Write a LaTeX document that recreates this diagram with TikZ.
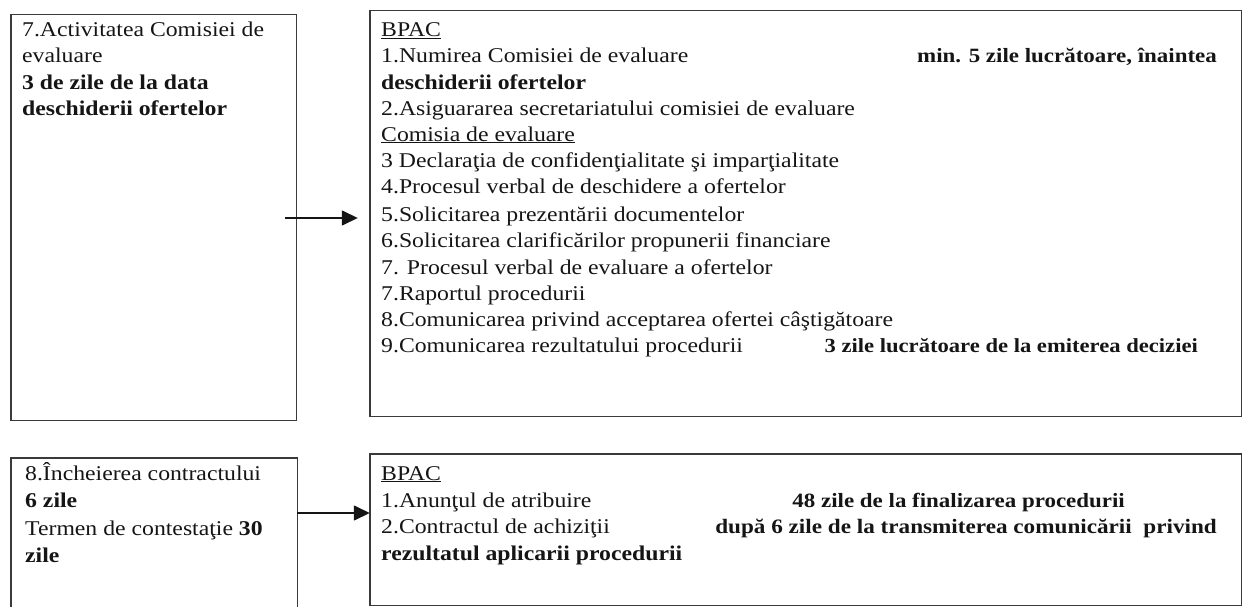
\documentclass[tikz,border=0pt]{standalone}
\usepackage{fontspec}
\setmainfont[FakeStretch=1.13]{Liberation Serif}
\usetikzlibrary{arrows.meta}
\definecolor{ink}{HTML}{151515}
\definecolor{edge}{HTML}{3A3A3A}
\tikzset{
  box/.style={draw=edge, line width=1.4pt, rectangle},
  frame/.style={inner sep=0pt, rectangle},
  ln/.style={anchor=base west, inner sep=0pt, text=ink, font=\fontsize{21}{26}\selectfont},
  lnr/.style={anchor=base east, inner sep=0pt, text=ink, font=\fontsize{20.3}{26}\selectfont\bfseries},
  arr/.style={draw=ink, line width=1.5pt, -{Triangle[length=16pt,width=15pt]}}
}
\begin{document}
\begin{tikzpicture}[x=1pt,y=-1pt]
\useasboundingbox (0,0) rectangle (1244,607);
\clip (0,0) rectangle (1244,607);
% boxes
\node[frame, minimum width=285pt, minimum height=405pt] (A) at (153.5,217.5) {};
\draw[box] (A.north west) rectangle (A.south east);
\node[frame, minimum width=871pt, minimum height=405pt] (B) at (805.5,213.5) {};
\draw[box] (B.north west) rectangle (B.south east);
\node[frame, minimum width=286pt, minimum height=164pt] (C) at (154,540) {};
\draw[box] (C.north west) rectangle (C.south east);
\node[frame, minimum width=871pt, minimum height=151pt] (D) at (805.5,529.5) {};
\draw[box] (D.north west) rectangle (D.south east);
% box A text
\node[ln] (a1) at (22,37) {7.Activitatea Comisiei de};
\node[ln] (a2) at (22,63) {evaluare};
\node[ln] (a3) at (22,90) {\bfseries 3 de zile de la data};
\node[ln] (a4) at (22,116) {\bfseries deschiderii ofertelor};
% box B text
\node[ln] (b0) at (381,37) {\underline{BPAC}};
\node[ln] (b1) at (381,63) {1.Numirea Comisiei de evaluare};
\node[lnr] (b1r) at (1217,63) {min. 5 zile lucrătoare, înaintea};
\node[ln] (b2) at (381,89.5) {\bfseries deschiderii ofertelor};
\node[ln] (b3) at (381,115.5) {2.Asiguararea secretariatului comisiei de evaluare};
\node[ln] (b4) at (381,141) {\underline{Comisia de evaluare}};
\node[ln] (b5) at (381,167) {3 Declaraţia de confidenţialitate şi imparţialitate};
\node[ln] (b6) at (381,193) {4.Procesul verbal de deschidere a ofertelor};
\node[ln] (b7) at (381,221) {5.Solicitarea prezentării documentelor};
\node[ln] (b8) at (381,247) {6.Solicitarea clarificărilor propunerii financiare};
\node[ln] (b9) at (381,274) {7. Procesul verbal de evaluare a ofertelor};
\node[ln] (b10) at (381,300) {7.Raportul procedurii};
\node[ln] (b11) at (381,326) {8.Comunicarea privind acceptarea ofertei câştigătoare};
\node[ln] (b12) at (381,352) {9.Comunicarea rezultatului procedurii};
\node[lnr, font=\fontsize{20}{26}\selectfont\bfseries] (b12r) at (1198,352) {3 zile lucrătoare de la emiterea deciziei};
% box C text
\node[ln] (c1) at (25,480) {8.Încheierea contractului};
\node[ln] (c2) at (25,507) {\bfseries 6 zile};
\node[ln] (c3) at (25,535) {Termen de contestaţie \textbf{30}};
\node[ln] (c4) at (25,562) {\bfseries zile};
% box D text
\node[ln] (d0) at (381,480) {\underline{BPAC}};
\node[ln] (d1) at (381,507) {1.Anunţul de atribuire};
\node[lnr] (d1r) at (1125,507) {48 zile de la finalizarea procedurii};
\node[ln] (d2) at (381,533) {2.Contractul de achiziţii};
\node[lnr, font=\fontsize{20.5}{26}\selectfont\bfseries] (d2r) at (1217,533) {după 6 zile de la transmiterea comunicării\ \ privind};
\node[ln] (d3) at (381,560) {\bfseries rezultatul aplicarii procedurii};
% connectors
\draw[arr, shorten <=-11pt, shorten >=12pt] (A.east |- 0,218) -- (B.west |- 0,218);
\draw[arr] (C.east |- 0,513) -- (D.west |- 0,513);
\end{tikzpicture}
\end{document}
